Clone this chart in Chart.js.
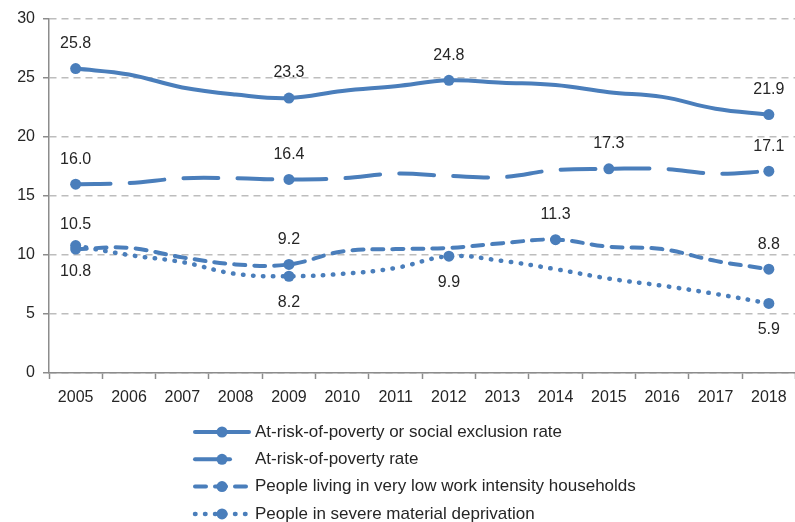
<!DOCTYPE html>
<html>
<head>
<meta charset="utf-8">
<script src="https://cdn.jsdelivr.net/npm/chart.js@4.4.1/dist/chart.umd.min.js"></script>
<style>
  html, body { margin: 0; padding: 0; background: #fff; overflow: hidden; }
</style>
</head>
<body>
<canvas id="povertyChart" width="801" height="522"></canvas>
<script>
// Datos
const years = ['2005', '2006', '2007', '2008', '2009', '2010', '2011', '2012', '2013', '2014', '2015', '2016', '2017', '2018'];
const yTicks = [0, 5, 10, 15, 20, 25, 30];

const seriesNames = [
    'At-risk-of-poverty or social exclusion rate',
    'At-risk-of-poverty rate',
    'People living in very low work intensity households',
    'People in severe material deprivation'
];

const aropeRate = [25.8, 25.3, 24.2, 23.6, 23.3, 23.9, 24.3, 24.8, 24.6, 24.4, 23.8, 23.4, 22.4, 21.9];
const povertyRate = [16.0, 16.1, 16.5, 16.5, 16.4, 16.5, 16.9, 16.7, 16.6, 17.2, 17.3, 17.3, 16.9, 17.1];
const lowWorkIntensity = [10.5, 10.6, 9.8, 9.2, 9.2, 10.3, 10.5, 10.6, 11.0, 11.3, 10.7, 10.5, 9.5, 8.8];
const materialDeprivation = [10.8, 10.0, 9.4, 8.4, 8.2, 8.4, 8.9, 9.9, 9.5, 8.8, 8.0, 7.4, 6.7, 5.9];

// Años con marcador y etiqueta
const aropeMarks = ['2005', '2009', '2012', '2018'];
const povertyMarks = ['2005', '2009', '2015', '2018'];
const lowWorkMarks = ['2005', '2009', '2014', '2018'];
const deprivationMarks = ['2005', '2009', '2012', '2018'];

const blue = '#4a7ebb';
const textColor = '#262626';
const font = '"Liberation Sans", Arial, sans-serif';

function makeDataset(i, data, marks, dash, width, labelPos) {
    return {
        label: seriesNames[i],
        data: data,
        marks: marks,
        labelPos: labelPos,
        borderColor: blue,
        backgroundColor: blue,
        borderWidth: width,
        borderDash: dash,
        borderCapStyle: 'round',
        borderJoinStyle: 'round',
        tension: 0.4,
        fill: false,
        pointRadius: ctx => marks.includes(years[ctx.dataIndex]) ? 5.5 : 0,
        pointHoverRadius: 0,
        pointBorderWidth: 0
    };
}

// Etiquetas de valores sobre/bajo los marcadores
const valueLabels = {
    id: 'valueLabels',
    afterDatasetsDraw(chart) {
        const ctx = chart.ctx;
        ctx.save();
        ctx.font = '16px ' + font;
        ctx.fillStyle = textColor;
        ctx.textAlign = 'center';
        ctx.textBaseline = 'middle';
        chart.data.datasets.forEach((ds, i) => {
            const meta = chart.getDatasetMeta(i);
            ds.data.forEach((v, j) => {
                if (!ds.marks.includes(years[j])) return;
                const pt = meta.data[j];
                const dy = ds.labelPos === 'below' ? 26 : -25;
                ctx.fillText(v.toFixed(1), pt.x, pt.y + dy);
            });
        });
        ctx.restore();
    }
};

// Leyenda vertical debajo del gráfico
const verticalLegend = {
    id: 'verticalLegend',
    afterDraw(chart) {
        const ctx = chart.ctx;
        const top = chart.chartArea.bottom + 59;
        ctx.save();
        chart.data.datasets.forEach((ds, i) => {
            const y = top + i * 27.3;
            ctx.strokeStyle = ds.borderColor;
            ctx.lineWidth = ds.borderWidth;
            ctx.lineCap = 'round';
            ctx.setLineDash(ds.borderDash || []);
            ctx.beginPath();
            ctx.moveTo(195, y);
            ctx.lineTo(249, y);
            ctx.stroke();
            ctx.setLineDash([]);
            ctx.fillStyle = ds.borderColor;
            ctx.beginPath();
            ctx.arc(222, y, 5.5, 0, Math.PI * 2);
            ctx.fill();
            ctx.fillStyle = textColor;
            ctx.font = '17px ' + font;
            ctx.textAlign = 'left';
            ctx.textBaseline = 'middle';
            ctx.fillText(ds.label, 255, y);
        });
        ctx.restore();
    }
};

const ctx = document.getElementById('povertyChart').getContext('2d');
const povertyChart = new Chart(ctx, {
    type: 'line',
    data: {
        labels: years,
        datasets: [
            makeDataset(0, aropeRate, aropeMarks, [], 4, 'above'),
            makeDataset(1, povertyRate, povertyMarks, [35, 19], 4, 'above'),
            makeDataset(2, lowWorkIntensity, lowWorkMarks, [11, 9], 4, 'above'),
            makeDataset(3, materialDeprivation, deprivationMarks, [0.5, 9.5], 4.5, 'below')
        ]
    },
    options: {
        responsive: false,
        animation: false,
        layout: {
            padding: { top: 19, right: 0, bottom: 119, left: 0 }
        },
        plugins: {
            legend: { display: false },
            tooltip: { enabled: false }
        },
        scales: {
            x: {
                offset: true,
                grid: {
                    offset: true,
                    drawOnChartArea: false,
                    drawTicks: true,
                    tickLength: 6,
                    tickColor: '#8c8c8c',
                    tickWidth: 1.5
                },
                border: { color: '#8c8c8c', width: 1.5 },
                ticks: {
                    color: textColor,
                    font: { family: font, size: 16 },
                    padding: 9,
                    maxRotation: 0,
                    autoSkip: false
                },
                afterFit(scale) { scale.height = 30; }
            },
            y: {
                min: 0,
                max: 30,
                afterBuildTicks(scale) {
                    scale.ticks = yTicks.map(v => ({ value: v }));
                },
                grid: {
                    color: '#bdbdbd',
                    lineWidth: 1.5,
                    tickLength: 6,
                    tickColor: '#8c8c8c',
                    tickBorderDash: [],
                    tickWidth: 1.5
                },
                border: { color: '#8c8c8c', width: 1.5, dash: [7, 5] },
                ticks: {
                    color: textColor,
                    font: { family: font, size: 16 },
                    padding: 8
                },
                afterFit(scale) { scale.width = 49; }
            }
        }
    },
    plugins: [valueLabels, verticalLegend]
});
</script>
</body>
</html>
